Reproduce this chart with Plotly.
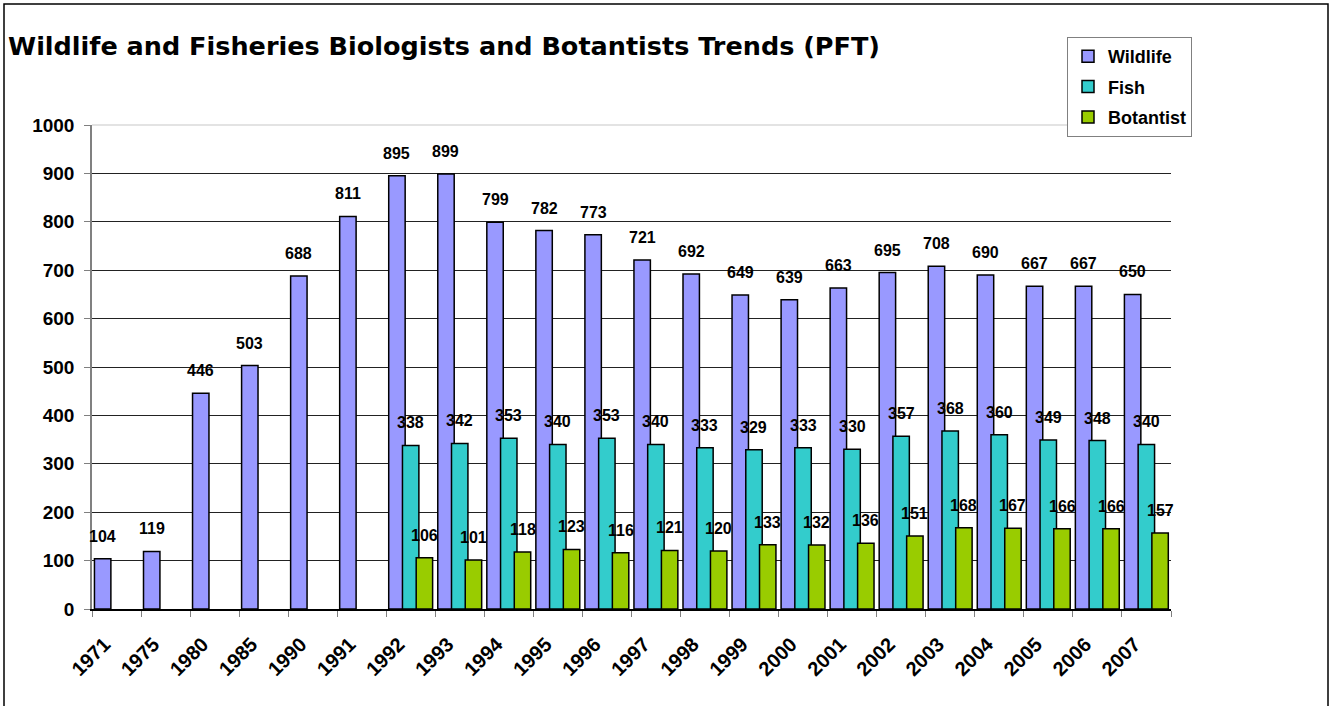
import plotly.graph_objects as go

years = ["1971", "1975", "1980", "1985", "1990", "1991", "1992", "1993", "1994", "1995", "1996",
         "1997", "1998", "1999", "2000", "2001", "2002", "2003", "2004", "2005", "2006", "2007"]
wildlife = [104, 119, 446, 503, 688, 811, 895, 899, 799, 782, 773, 721, 692, 649, 639, 663,
            695, 708, 690, 667, 667, 650]
fish = [None] * 6 + [338, 342, 353, 340, 353, 340, 333, 329, 333, 330, 357, 368, 360, 349, 348, 340]
botanist = [None] * 6 + [106, 101, 118, 123, 116, 121, 120, 133, 132, 136, 151, 168, 167, 166, 166, 157]

series = [
    ("Wildlife", wildlife, "#9999FF", -0.45),
    ("Fish", fish, "#33CCCC", -0.17),
    ("Botantist", botanist, "#99CC00", 0.11),
]
BAR_W = 0.335
FONT = "Arial, Liberation Sans, sans-serif"
TITLE_FONT = "DejaVu Sans, Arial, sans-serif"

fig = go.Figure()
annotations = []
for name, vals, color, off in series:
    fig.add_trace(go.Bar(
        x=years, y=vals, name=name, legendgroup=name,
        marker=dict(color=color, line=dict(color="#000000", width=1.5)),
        width=BAR_W, offset=off,
    ))
    for i, v in enumerate(vals):
        if v is None:
            continue
        annotations.append(dict(
            x=i + off + BAR_W / 2, y=v, xref="x", yref="y",
            text=f"<b>{v}</b>", showarrow=False, yanchor="bottom", yshift=12,
            font=dict(family=FONT, size=16, color="#000000"),
        ))

shapes = [
    # figure border
    dict(type="rect", xref="paper", yref="paper",
         x0=(4 - 92) / 1079, x1=(1328 - 92) / 1079,
         y0=(609 - 730) / 484, y1=(609 - 4) / 484,
         line=dict(color="#000000", width=1.5), fillcolor="rgba(0,0,0,0)", layer="below"),
    # light top edge of plot area
    dict(type="line", xref="paper", yref="paper", x0=0, x1=1, y0=1, y1=1,
         line=dict(color="#C8C8C8", width=1.2), layer="above"),
]

fig.update_layout(
    width=1332, height=706,
    margin=dict(l=92, r=161, t=125, b=97),
    paper_bgcolor="#FFFFFF", plot_bgcolor="#FFFFFF",
    barmode="overlay",
    font=dict(family=FONT, color="#000000"),
    title=dict(
        text="<b>Wildlife and Fisheries Biologists and Botantists Trends (PFT)</b>",
        x=8 / 1332, xref="container", xanchor="left",
        y=1 - 46 / 706, yref="container", yanchor="middle",
        font=dict(family=TITLE_FONT, size=25.5, color="#000000"),
    ),
    legend=dict(
        x=(1067 - 92) / 1079, y=(609 - 37) / 484, xanchor="left", yanchor="top",
        bgcolor="#FFFFFF", bordercolor="#808080", borderwidth=1,
        traceorder="grouped", tracegroupgap=4,
        font=dict(family=FONT, size=18, color="#000000", weight="bold"),
    ),
    xaxis=dict(
        type="category", tickangle=-45, tickson="boundaries",
        ticks="outside", ticklen=6, tickcolor="#808080",
        showline=True, linecolor="#000000", linewidth=1.5,
        showgrid=False,
        ticklabelstandoff=14, ticklabelshift=-12,
        tickfont=dict(family=FONT, size=20, color="#000000", weight="bold"),
        range=[-0.5, len(years) - 0.5],
    ),
    yaxis=dict(
        range=[0, 1000], dtick=100, ticks="outside", ticklen=6, tickcolor="#808080",
        showline=True, linecolor="#808080", linewidth=1.5,
        showgrid=True, gridcolor="#222222", gridwidth=1,
        zeroline=False, ticklabelstandoff=6,
        tickfont=dict(family=FONT, size=19, color="#000000", weight="bold"),
    ),
    annotations=annotations,
    shapes=shapes,
)

fig.write_html("out.html", post_script="document.body.style.margin='0';",
               config={"displayModeBar": False})
